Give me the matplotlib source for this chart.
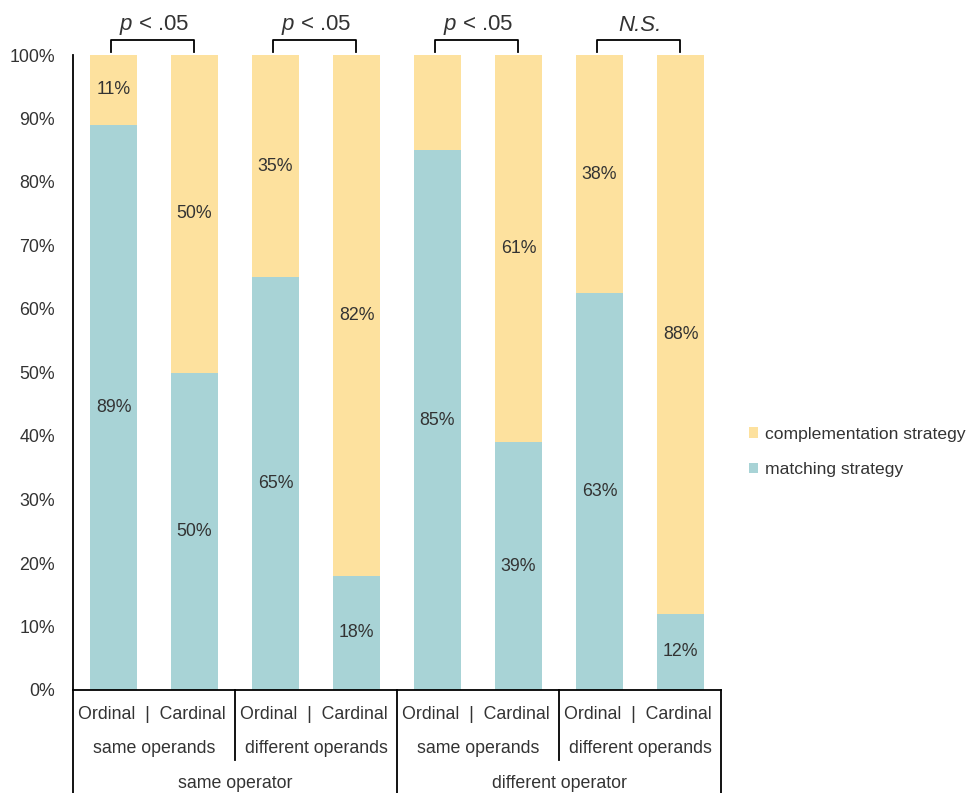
import matplotlib
matplotlib.use("Agg")
import matplotlib.pyplot as plt
import numpy as np
from matplotlib.patches import Patch

plt.rcParams['font.family'] = ['Liberation Sans', 'DejaVu Sans']
plt.rcParams['mathtext.fontset'] = 'custom'
plt.rcParams['mathtext.it'] = 'Liberation Sans:italic'
plt.rcParams['mathtext.rm'] = 'Liberation Sans'

# data
conditions = ["Ordinal", "Cardinal"] * 4
operand_groups = ["same operands", "different operands", "same operands", "different operands"]
operator_groups = ["same operator", "different operator"]
matching = [89, 50, 65, 18, 85, 39, 62.5, 12]
complementation = [11, 50, 35, 82, 15, 61, 37.5, 88]
matching_labels = ["89%", "50%", "65%", "18%", "85%", "39%", "63%", "12%"]
complement_labels = ["11%", "50%", "35%", "82%", "", "61%", "38%", "88%"]
significance = ["p < .05", "p < .05", "p < .05", "N.S."]

teal = "#A8D3D6"
yellow = "#FDE19E"
txt = "#333333"
fs = 12.8

fig = plt.figure(figsize=(9.71, 7.93), dpi=100)
ax = fig.add_axes([73 / 971, 103 / 793, 648 / 971, 635 / 793])

x = np.arange(len(matching))
ax.bar(x, matching, width=0.58, color=teal, label="matching strategy")
ax.bar(x, complementation, width=0.58, bottom=matching, color=yellow,
       label="complementation strategy")

for i in x:
    if matching_labels[i]:
        ax.text(i, matching[i] / 2, matching_labels[i], ha="center", va="center",
                fontsize=fs, color=txt)
    if complement_labels[i]:
        ax.text(i, matching[i] + complementation[i] / 2, complement_labels[i],
                ha="center", va="center", fontsize=fs, color=txt)

ax.set_xlim(-0.5, 7.5)
ax.set_ylim(0, 100)
ax.set_yticks(np.arange(0, 101, 10))
ax.set_yticklabels([f"{v}%" for v in range(0, 101, 10)], fontsize=fs, color=txt)
ax.tick_params(axis="y", length=0, pad=13)
ax.set_xticks([])
for s in ["top", "right"]:
    ax.spines[s].set_visible(False)
ax.spines["left"].set_bounds(0, 100)
ax.spines["left"].set_linewidth(1.3)
ax.spines["bottom"].set_linewidth(1.3)

# category table below the axis
tr = ax.get_xaxis_transform()
ax.plot([-0.5, -0.5], [0, -0.17], transform=tr, color="black", lw=1.3, clip_on=False)
for xb in [3.5, 7.5]:
    ax.plot([xb, xb], [0, -0.17], transform=tr, color="black", lw=1.3, clip_on=False)
for xb in [1.5, 5.5]:
    ax.plot([xb, xb], [0, -0.111], transform=tr, color="black", lw=1.3, clip_on=False)

for g in range(4):
    cx = 2 * g + 0.47
    ax.text(cx, -0.038, f"{conditions[2 * g]}  |  {conditions[2 * g + 1]}", transform=tr,
            ha="center", va="center", fontsize=fs, color=txt)
    ax.text(2 * g + 0.5, -0.092, operand_groups[g], transform=tr,
            ha="center", va="center", fontsize=fs, color=txt)
for g in range(2):
    cx = 4 * g + 1.5
    ax.text(cx, -0.147, operator_groups[g], transform=tr,
            ha="center", va="center", fontsize=fs, color=txt)

# significance brackets
for g in range(4):
    x0, x1 = 2 * g - 0.03, 2 * g + 1 - 0.01
    ax.plot([x0, x0, x1, x1], [1.005, 1.024, 1.024, 1.005], transform=tr,
            color="black", lw=1.3, clip_on=False)
    label = significance[g]
    if label.startswith("p"):
        label = "$p$" + label[1:]
    ax.text(2 * g + 0.5, 1.047, label, transform=tr, ha="center", va="center",
            fontsize=16, color=txt, style="italic" if g == 3 else "normal")

handles = [Patch(facecolor=yellow, label="complementation strategy"),
           Patch(facecolor=teal, label="matching strategy")]
fig.legend(handles=handles, loc="center left", bbox_to_anchor=(733 / 971, 1 - 452 / 793),
           frameon=False, fontsize=12.6, handlelength=0.55, handleheight=0.55,
           handletextpad=0.35, labelspacing=1.15, labelcolor=txt)

fig.savefig("out.png", dpi=100)
